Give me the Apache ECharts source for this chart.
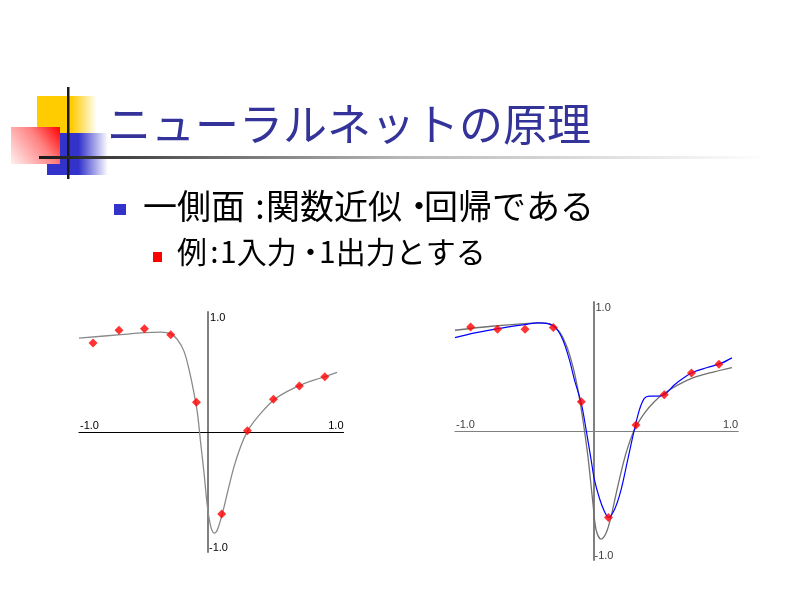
<!DOCTYPE html>
<html>
<head>
<meta charset="utf-8">
<script src="https://cdn.jsdelivr.net/npm/echarts@6/dist/echarts.min.js"></script>
<style>html,body{margin:0;padding:0;background:#fff;}#c{width:800px;height:600px;}</style>
</head>
<body>
<div id="c"></div>
<script>
// ---- texts ----
const titleText = 'ニューラルネットの原理';
const bullet1Parts = ['一側面', ':', '関数近似', '・', '回帰である'];   // 一側面:関数近似・回帰である
const bullet2Parts = ['例', ':', '1入力', '・', '1出力とする'];         // 例:1入力・1出力とする
const tickLabels = ['-1.0', '1.0'];

// ---- left chart: fitted curve and sample points ----
const leftCurveX = [-1.0,-0.677,-0.496,-0.367,-0.289,-0.237,-0.186,-0.147,-0.109,-0.082,-0.057,-0.031,-0.005,0.021,0.047,0.073,0.112,0.150,0.202,0.253,0.305,0.357,0.434,0.512,0.615,0.744,0.874,1.0];
const leftCurveY = [0.783,0.811,0.828,0.833,0.819,0.769,0.672,0.519,0.325,0.158,-0.092,-0.342,-0.62,-0.787,-0.842,-0.814,-0.675,-0.508,-0.287,-0.12,0.005,0.088,0.186,0.269,0.338,0.403,0.45,0.497];
const leftPointsX = [-0.891,-0.69,-0.493,-0.289,-0.09,0.106,0.305,0.507,0.708,0.905];
const leftPointsY = [0.742,0.847,0.861,0.811,0.247,-0.683,0.011,0.272,0.383,0.461];

// ---- right chart: true curve (gray), network output (blue), sample points ----
const rightGrayX = [-1.0,-0.736,-0.496,-0.376,-0.304,-0.245,-0.196,-0.148,-0.112,-0.076,-0.040,-0.004,0.019,0.055,0.091,0.127,0.175,0.235,0.295,0.367,0.439,0.511,0.607,0.727,0.871,1.0];
const rightGrayY = [0.781,0.812,0.833,0.838,0.825,0.768,0.665,0.497,0.317,0.085,-0.199,-0.559,-0.766,-0.838,-0.791,-0.663,-0.431,-0.172,0.008,0.137,0.227,0.292,0.356,0.415,0.459,0.492];
const rightBlueX = [-1.0,-0.856,-0.688,-0.496,-0.4,-0.328,-0.268,-0.22,-0.173,-0.137,-0.088,-0.053,-0.017,0.007,0.043,0.079,0.108,0.151,0.199,0.247,0.295,0.331,0.367,0.403,0.463,0.511,0.583,0.655,0.727,0.823,0.919,1.0];
const rightBlueY = [0.724,0.760,0.794,0.825,0.838,0.833,0.794,0.704,0.549,0.394,0.214,0.008,-0.224,-0.379,-0.521,-0.624,-0.67,-0.611,-0.456,-0.224,0.008,0.162,0.253,0.271,0.271,0.281,0.356,0.415,0.459,0.492,0.524,0.567];
const rightPointsX = [-0.887,-0.693,-0.494,-0.29,-0.088,0.108,0.307,0.511,0.708,0.906];
const rightPointsY = [0.807,0.789,0.789,0.802,0.227,-0.67,0.046,0.281,0.449,0.518];

const zip = (xs, ys) => xs.map((x, i) => [x, ys[i]]);

const chart = echarts.init(document.getElementById('c'));
const labelFont = 'Liberation Sans';
const axisRanges = [ { xmin: -1, xmax: 1.05 }, { xmin: -1, xmax: 1.045 } ];

function xAxisCfg(g, lineColor) {
  return {
    type: 'value', gridIndex: g, min: axisRanges[g].xmin, max: axisRanges[g].xmax,
    axisLine: { show: true, onZero: true, lineStyle: { color: lineColor, width: 1.2 } },
    axisTick: { show: false }, splitLine: { show: false }, axisLabel: { show: false }
  };
}
function yAxisCfg(g, lineColor) {
  return {
    type: 'value', gridIndex: g, min: -1, max: 1,
    axisLine: { show: true, onZero: true, lineStyle: { color: lineColor, width: 2 } },
    axisTick: { show: false }, splitLine: { show: false }, axisLabel: { show: false }
  };
}

const cjk = '"Noto Sans CJK JP"';
const baseGraphic = [
  // decorative squares
  { type: 'rect', shape: { x: 37, y: 96, width: 60, height: 37 }, z: 1,
    style: { fill: { type: 'linear', x: 0, y: 0, x2: 1, y2: 0, colorStops: [
      { offset: 0, color: '#ffcc00' }, { offset: 0.58, color: '#ffcc00' }, { offset: 1, color: 'rgba(255,204,0,0)' } ] } } },
  { type: 'rect', shape: { x: 47, y: 133, width: 61, height: 42 }, z: 2,
    style: { fill: { type: 'linear', x: 0, y: 0, x2: 1, y2: 0, colorStops: [
      { offset: 0, color: '#3333cc' }, { offset: 0.52, color: '#3333cc' }, { offset: 1, color: 'rgba(51,51,204,0)' } ] } } },
  { type: 'rect', shape: { x: 11, y: 127, width: 49, height: 37 }, z: 3,
    style: { fill: { type: 'linear', x: 1, y: 0, x2: 0, y2: 1, colorStops: [
      { offset: 0, color: '#ff0000' }, { offset: 0.4, color: '#ff8080' }, { offset: 1, color: '#fff0f0' } ] } } },
  { type: 'rect', shape: { x: 67, y: 87, width: 2.5, height: 92 }, z: 4, style: { fill: '#1a1a1a' } },
  { type: 'rect', shape: { x: 39, y: 156, width: 730, height: 3 }, z: 4,
    style: { fill: { type: 'linear', x: 0, y: 0, x2: 1, y2: 0, colorStops: [
      { offset: 0, color: '#1a1a1a' }, { offset: 0.2, color: '#606060' }, { offset: 0.5, color: '#b8b8b8' }, { offset: 1, color: '#ffffff' } ] } } },
  // title
  { type: 'text', x: 107, y: 124, z: 5,
    style: { text: titleText, fill: '#333399', font: '44px ' + cjk, verticalAlign: 'middle', align: 'left' } },
  // bullets
  { type: 'rect', shape: { x: 114, y: 204, width: 12, height: 11 }, style: { fill: '#3333cc' } },
  { type: 'rect', shape: { x: 153, y: 252, width: 9, height: 10 }, style: { fill: '#ff0000' } }
];
// bullet line 1 pieces (x, align)
const b1Pos = [[143, 'left'], [260, 'center'], [266, 'left'], [419, 'center'], [424, 'left']];
bullet1Parts.forEach((t, i) => baseGraphic.push({ type: 'text', x: b1Pos[i][0], y: 206,
  style: { text: t, fill: '#000', font: '34px ' + cjk, verticalAlign: 'middle', align: b1Pos[i][1] } }));
const b2Pos = [[177, 'left'], [214.5, 'center'], [220, 'left'], [310.5, 'center'], [319, 'left']];
bullet2Parts.forEach((t, i) => baseGraphic.push({ type: 'text', x: b2Pos[i][0], y: 251.5,
  style: { text: t, fill: '#000', font: '30px ' + cjk, verticalAlign: 'middle', align: b2Pos[i][1] } }));

const option = {
  backgroundColor: '#ffffff',
  animation: false,
  grid: [
    { left: 79, top: 312, width: 264.5, height: 240 },
    { left: 455, top: 302, width: 283.2, height: 258 }
  ],
  xAxis: [xAxisCfg(0, '#000000'), xAxisCfg(1, '#808080')],
  yAxis: [yAxisCfg(0, '#808080'), yAxisCfg(1, '#808080')],
  series: [
    { type: 'line', xAxisIndex: 0, yAxisIndex: 0, data: zip(leftCurveX, leftCurveY), smooth: 0.35,
      showSymbol: false, lineStyle: { color: '#8a8a8a', width: 1.3 }, z: 2 },
    { type: 'scatter', xAxisIndex: 0, yAxisIndex: 0, data: zip(leftPointsX, leftPointsY),
      symbol: 'diamond', symbolSize: 9, itemStyle: { color: '#ff0000' }, z: 5 },
    { type: 'line', xAxisIndex: 1, yAxisIndex: 1, data: zip(rightGrayX, rightGrayY), smooth: 0.35,
      showSymbol: false, lineStyle: { color: '#707070', width: 1.3 }, z: 2 },
    { type: 'line', xAxisIndex: 1, yAxisIndex: 1, data: zip(rightBlueX, rightBlueY), smooth: 0.35,
      showSymbol: false, lineStyle: { color: '#0000ff', width: 1.2 }, z: 3 },
    { type: 'scatter', xAxisIndex: 1, yAxisIndex: 1, data: zip(rightPointsX, rightPointsY),
      symbol: 'diamond', symbolSize: 9, itemStyle: { color: '#ff0000' }, z: 5 }
  ],
  graphic: baseGraphic
};
chart.setOption(option);

// axis end labels placed through the chart's own scales
const labelColors = ['#000000', '#404040'];
const axisLabels = [];
[0, 1].forEach(g => {
  const r = axisRanges[g];
  const a = chart.convertToPixel({ gridIndex: g }, [r.xmin, 0]);
  const b = chart.convertToPixel({ gridIndex: g }, [r.xmax, 0]);
  const c = chart.convertToPixel({ gridIndex: g }, [0, 1]);
  const d = chart.convertToPixel({ gridIndex: g }, [0, -1]);
  const st = (text, align, va) => ({ text, align, verticalAlign: va, fill: labelColors[g], font: '11px "' + labelFont + '"' });
  axisLabels.push(
    { type: 'text', x: a[0] + 1, y: a[1] - 1, style: st(tickLabels[0], 'left', 'bottom') },
    { type: 'text', x: b[0], y: b[1] - 1, style: st(tickLabels[1], 'right', 'bottom') },
    { type: 'text', x: c[0] + 2, y: c[1], style: st(tickLabels[1], 'left', 'top') },
    { type: 'text', x: d[0] + 1, y: d[1] + 1, style: st(tickLabels[0], 'left', 'bottom') }
  );
});
chart.setOption({ graphic: baseGraphic.concat(axisLabels) });
</script>
</body>
</html>
